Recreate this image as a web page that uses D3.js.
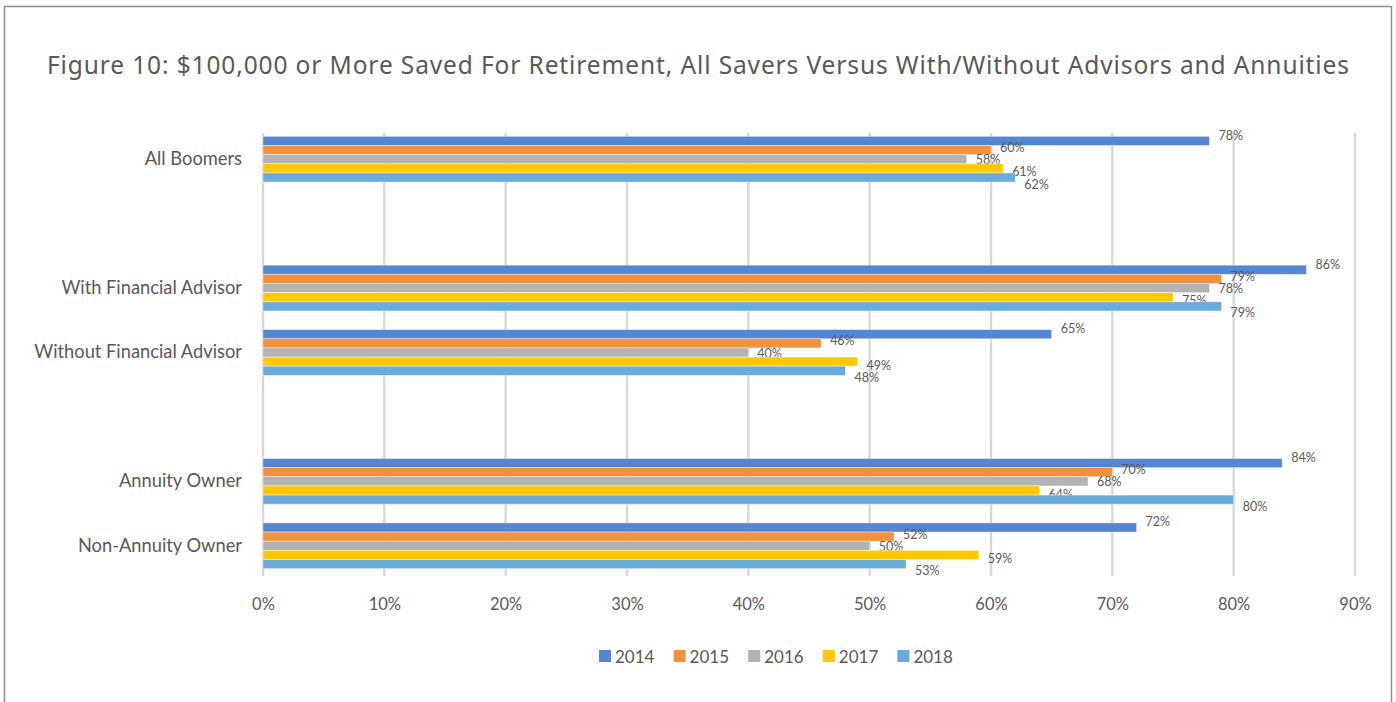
<!DOCTYPE html>
<meta charset="utf-8">
<style>
body { margin: 0; background: #fff; }
text { font-family: Lato, "Open Sans", sans-serif; fill: #595959; }
.title { font-family: "Noto Sans", sans-serif; font-size: 24.5px; fill: #595959; }
</style>
<body>
<script src="https://cdn.jsdelivr.net/npm/d3@7"></script>
<script>

// rows, with blank spacer rows between the groups
var categories = ["All Boomers", "", "With Financial Advisor", "Without Financial Advisor", " ", "Annuity Owner", "Non-Annuity Owner"];
var years = ["2014", "2015", "2016", "2017", "2018"];
var colors = ["#5486d2", "#f2913e", "#b3b3b3", "#ffc800", "#6aaadc"];

// percent values per year, in category order (null = spacer row)
var v2014 = [78, null, 86, 65, null, 84, 72];
var v2015 = [60, null, 79, 46, null, 70, 52];
var v2016 = [58, null, 78, 40, null, 68, 50];
var v2017 = [61, null, 75, 49, null, 64, 59];
var v2018 = [62, null, 79, 48, null, 80, 53];
var series = [v2014, v2015, v2016, v2017, v2018];

var xTicks = [0, 10, 20, 30, 40, 50, 60, 70, 80, 90];

var width = 1396,
    height = 702;

var svg = d3.select("body").append("svg")
    .attr("width", width)
    .attr("height", height);

// frame
svg.append("rect")
    .attr("x", 4.5).attr("y", 6.5)
    .attr("width", 1387).attr("height", 720)
    .attr("fill", "none")
    .attr("stroke", "#8c8c8c")
    .attr("stroke-width", 1.5);

svg.append("text")
    .attr("class", "title")
    .attr("x", 47)
    .attr("y", 74)
    .attr("textLength", 1302)
    .attr("lengthAdjust", "spacing")
    .text("Figure 10: $100,000 or More Saved For Retirement, All Savers Versus With/Without Advisors and Annuities");

var x = d3.scaleLinear().domain([0, 90]).range([263, 1355]);

var y = d3.scaleBand()
    .domain(categories)
    .range([127, 578])
    .paddingInner(0.29)
    .paddingOuter(0.145);

var ySub = d3.scaleBand()
    .domain(years)
    .range([0, y.bandwidth()]);

// gridlines
svg.append("g")
  .selectAll("line")
  .data(xTicks)
  .enter().append("line")
    .attr("x1", function(d) { return x(d); })
    .attr("x2", function(d) { return x(d); })
    .attr("y1", 133)
    .attr("y2", 576)
    .attr("stroke", "#d9d9d9")
    .attr("stroke-width", 2.5);

// x axis labels
var xAxis = svg.append("g")
    .attr("transform", "translate(0,578)")
    .call(d3.axisBottom(x).tickValues(xTicks).tickSize(0).tickPadding(20)
      .tickFormat(function(d) { return d + "%"; }));
xAxis.select(".domain").remove();
xAxis.selectAll("text")
    .style("font-size", "16.5px")
    .style("font-family", "Lato, sans-serif")
    .attr("fill", "#595959");

// category labels
var yAxis = svg.append("g")
    .attr("transform", "translate(263,0)")
    .call(d3.axisLeft(y).tickSize(0).tickPadding(21));
yAxis.select(".domain").remove();
yAxis.selectAll("text")
    .style("font-size", "18.3px")
    .style("font-family", "Lato, sans-serif")
    .attr("fill", "#595959");

// bars
var groups = svg.selectAll(".year")
    .data(series)
  .enter().append("g")
    .attr("class", "year");

groups.each(function(vals, si) {
  var g = d3.select(this);
  var rows = categories.map(function(c, i) { return { cat: c, v: vals[i] }; })
      .filter(function(d) { return d.v !== null; });

  g.selectAll("rect")
      .data(rows)
    .enter().append("rect")
      .attr("x", x(0))
      .attr("y", function(d) { return y(d.cat) + ySub(years[si]); })
      .attr("width", function(d) { return x(d.v) - x(0); })
      .attr("height", ySub.bandwidth())
      .attr("fill", colors[si])
      .attr("stroke", "#fff")
      .attr("stroke-opacity", 0.5)
      .attr("stroke-width", 0.8);

  // labels spread a little so neighbours don't collide
  g.selectAll("text")
      .data(rows)
    .enter().append("text")
      .attr("x", function(d) { return x(d.v) + 9; })
      .attr("y", function(d) { return y(d.cat) + ySub(years[si]) + ySub.bandwidth() / 2 + 5 + (si - 2) * 3; })
      .style("font-size", "12.5px")
      .style("font-family", "Lato, sans-serif")
      .attr("fill", "#595959")
      .text(function(d) { return d.v + "%"; });
});

// legend
var legend = svg.append("g")
    .selectAll("g")
    .data(years)
  .enter().append("g")
    .attr("transform", function(d, i) { return "translate(" + (599 + i * 74.6) + ",650)"; });

legend.append("rect")
    .attr("width", 12).attr("height", 12)
    .attr("fill", function(d, i) { return colors[i]; });

legend.append("text")
    .attr("x", 16)
    .attr("y", 13)
    .style("font-size", "17px")
    .style("font-family", "Lato, sans-serif")
    .attr("fill", "#595959")
    .text(function(d) { return d; });

</script>
